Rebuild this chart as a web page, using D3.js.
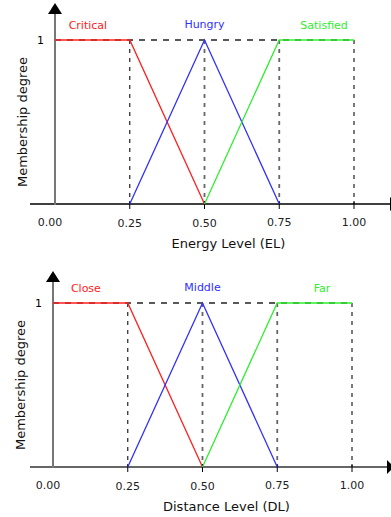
<!DOCTYPE html>
<html>
<head>
<meta charset="utf-8">
<title>Membership functions</title>
<script src="https://d3js.org/d3.v7.min.js"></script>
<style>
  body { margin: 0; background: #fff; }
  text { font-family: "DejaVu Sans", Verdana, sans-serif; }
</style>
</head>
<body>
<svg id="chart" width="391" height="517"></svg>
<script>
// data
var ticks = [0, 0.25, 0.5, 0.75, 1];
var tickLabels = ["0.00", "0.25", "0.50", "0.75", "1.00"];
var setColors = ["#ff2020", "#3030ff", "#30ee30"];
var energyNames = ["Critical", "Hungry", "Satisfied"];
var distanceNames = ["Close", "Middle", "Far"];
var lowPts = [[0, 1], [0.25, 1], [0.5, 0]];
var midPts = [[0.25, 0], [0.5, 1], [0.75, 0]];
var highPts = [[0.5, 0], [0.75, 1], [1, 1]];
var labelX = [0.11, 0.5, 0.9];   // where the set names sit, in x units

var svg = d3.select("#chart");

svg.append("defs").append("marker")
  .attr("id", "arrow")
  .attr("viewBox", "0 0 10 10")
  .attr("refX", 0).attr("refY", 5)
  .attr("markerWidth", 7).attr("markerHeight", 14)
  .attr("markerUnits", "userSpaceOnUse")
  .attr("orient", "auto")
  .attr("preserveAspectRatio", "none")
  .append("path").attr("d", "M0,0 L10,5 L0,10 Z").attr("fill", "#000");

function drawChart(o) {
  var x = d3.scaleLinear().domain([0, 1]).range([o.x0, o.x1]);
  var y = d3.scaleLinear().domain([0, 1]).range([o.y0, o.y1]);
  var g = svg.append("g");

  // dashed guides
  g.append("line")
    .attr("x1", x(0)).attr("x2", x(1))
    .attr("y1", y(1)).attr("y2", y(1))
    .attr("stroke", "#222").attr("stroke-width", 1.3)
    .attr("stroke-dasharray", "6,6");
  g.selectAll(".vdash").data(ticks.slice(1)).enter().append("line")
    .attr("x1", d => x(d)).attr("x2", d => x(d))
    .attr("y1", y(1)).attr("y2", y(0))
    .attr("stroke", (d, i) => i == 0 || i == 3 ? "#222" : "#666")
    .attr("stroke-width", (d, i) => i == 0 || i == 3 ? 1.2 : 1.8)
    .attr("stroke-dasharray", "4,5");

  // x axis with arrow
  g.append("line")
    .attr("x1", 30).attr("x2", o.arrowX)
    .attr("y1", y(0)).attr("y2", y(0))
    .attr("stroke", o.xColor).attr("stroke-width", 1.5)
    .attr("marker-end", "url(#arrow)");
  g.selectAll(".tick").data(ticks.slice(1)).enter().append("line")
    .attr("x1", d => x(d)).attr("x2", d => x(d))
    .attr("y1", y(0) - 3).attr("y2", y(0) + 5)
    .attr("stroke", "#000").attr("stroke-width", 1);
  g.selectAll(".tl").data(tickLabels).enter().append("text")
    .attr("x", (d, i) => x(ticks[i]) - (i == 0 ? 5 : 0))
    .attr("y", (d, i) => y(0) + 22 + (i == 1 || i == 2 ? 1 : 0))
    .attr("text-anchor", "middle")
    .attr("font-size", 11).attr("fill", "#222")
    .text(d => d);
  g.append("text")
    .attr("x", x(0.58)).attr("y", y(0) + 44)
    .attr("text-anchor", "middle")
    .attr("font-size", 13).attr("fill", "#111")
    .text(o.xTitle);

  // y axis with arrow
  g.append("line")
    .attr("x1", x(0)).attr("x2", x(0))
    .attr("y1", y(0) + 1).attr("y2", o.yTop)
    .attr("stroke", "#777").attr("stroke-width", 2);
  g.append("path")
    .attr("d", "M" + (x(0) - 7) + "," + o.yTop + " L" + x(0) + "," + (o.yTop - 11) +
      " L" + (x(0) + 7) + "," + o.yTop + " Z")
    .attr("fill", "#000");
  g.append("text")
    .attr("x", x(0) - 11).attr("y", y(1) + 4)
    .attr("text-anchor", "end")
    .attr("font-size", 11).attr("fill", "#000")
    .text("1");
  g.append("text")
    .attr("transform", "translate(" + (x(0) - 28) + "," + y(0.5) + ") rotate(-90)")
    .attr("text-anchor", "middle")
    .attr("font-size", 13).attr("fill", "#111")
    .text("Membership degree");

  // membership functions
  var line = d3.line().x(d => x(d[0])).y(d => y(d[1]));
  [lowPts, midPts, highPts].forEach(function(pts, i) {
    g.append("path")
      .attr("d", line(pts))
      .attr("fill", "none")
      .attr("stroke", setColors[i])
      .attr("stroke-width", 1.3);
    g.append("text")
      .attr("x", x(labelX[i])).attr("y", y(1) - 11 + (i == 1 ? -1 : 0))
      .attr("text-anchor", "middle")
      .attr("font-size", 11).attr("fill", setColors[i])
      .text(o.names[i]);
  });
}

drawChart({x0: 55, x1: 354, y0: 204, y1: 40, yTop: 14, arrowX: 390,
  xColor: "#000", xTitle: "Energy Level (EL)", names: energyNames});
drawChart({x0: 53, x1: 352, y0: 467, y1: 303, yTop: 282, arrowX: 387,
  xColor: "#333", xTitle: "Distance Level (DL)", names: distanceNames});
</script>
</body>
</html>
